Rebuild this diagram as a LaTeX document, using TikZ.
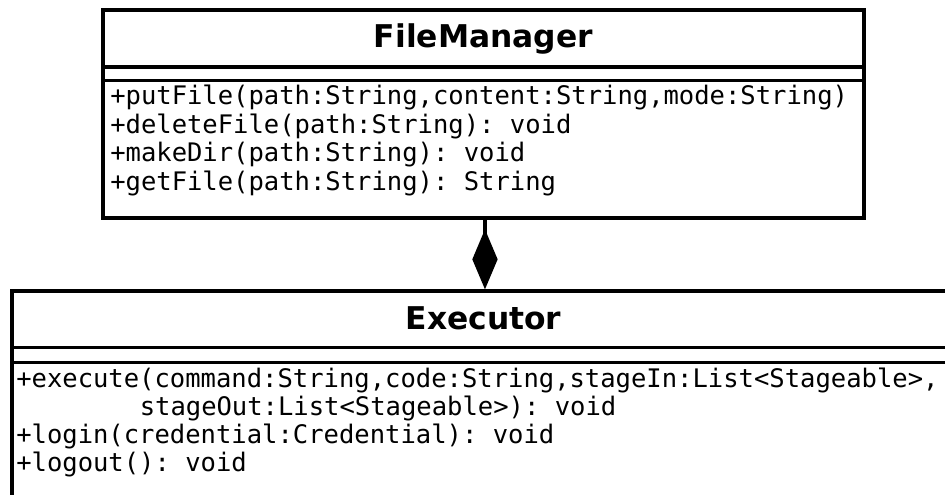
\documentclass[tikz,border=0pt]{standalone}
\usepackage{fontspec}
\setmainfont{DejaVu Sans}
\setmonofont{DejaVu Sans Mono}
\usetikzlibrary{arrows.meta}

\tikzset{
  classbox/.style={draw, line width=2.5pt, inner sep=0pt},
  classline/.style={line width=2.5pt},
  classname/.style={font=\fontsize{23.5}{27}\selectfont\bfseries, inner sep=0pt, anchor=base},
  method/.style={font=\fontsize{19.15}{23}\selectfont\ttfamily, inner sep=0pt, anchor=base west},
  compose/.style={line width=2.5pt, -{Diamond[length=45pt,width=19pt]}}
}

\begin{document}
\begin{tikzpicture}[x=0.75pt,y=0.75pt,yscale=-1,xscale=1]
\clip (0,0) rectangle (945,495);

%Shape: Class box FileManager
\node[classbox, minimum width=570.75pt, minimum height=156pt] (fm) at (483.5,114) {};
\draw[classline] (fm.west |- 0,67) -- (fm.east |- 0,67);
\draw[classline] (fm.west |- 0,80.5) -- (fm.east |- 0,80.5);

%Shape: Class box Executor
\node[classbox, minimum width=707.25pt, minimum height=171.75pt] (ex) at (483.5,405.5) {};
\draw[classline] (ex.west |- 0,347.5) -- (ex.east |- 0,347.5);
\draw[classline] (ex.west |- 0,362.5) -- (ex.east |- 0,362.5);

%Straight Lines: composition
\draw[compose] ([xshift=1.1pt]fm.south) -- ([xshift=1.1pt]ex.north);

% Text Node
\node[classname] (fm-name) at (483.5,48) {FileManager};
% Text Node
\node[method] (fm-put) at (110,105) {+putFile(path:String,content:String,mode:String)};
% Text Node
\node[method] (fm-del) at (110,134) {+deleteFile(path:String): void};
% Text Node
\node[method] (fm-mk) at (110,162) {+makeDir(path:String): void};
% Text Node
\node[method] (fm-get) at (110,191) {+getFile(path:String): String};

% Text Node
\node[classname] (ex-name) at (483.5,329) {Executor};
% Text Node
\node[method] (ex-exec) at (16,387) {+execute(command:String,code:String,stageIn:List<Stageable>,};
% Text Node
\node[method] (ex-out) at (139.5,415) {stageOut:List<Stageable>): void};
% Text Node
\node[method] (ex-in) at (16,443) {+login(credential:Credential): void};
% Text Node
\node[method] (ex-logout) at (16,471) {+logout(): void};

\end{tikzpicture}
\end{document}
